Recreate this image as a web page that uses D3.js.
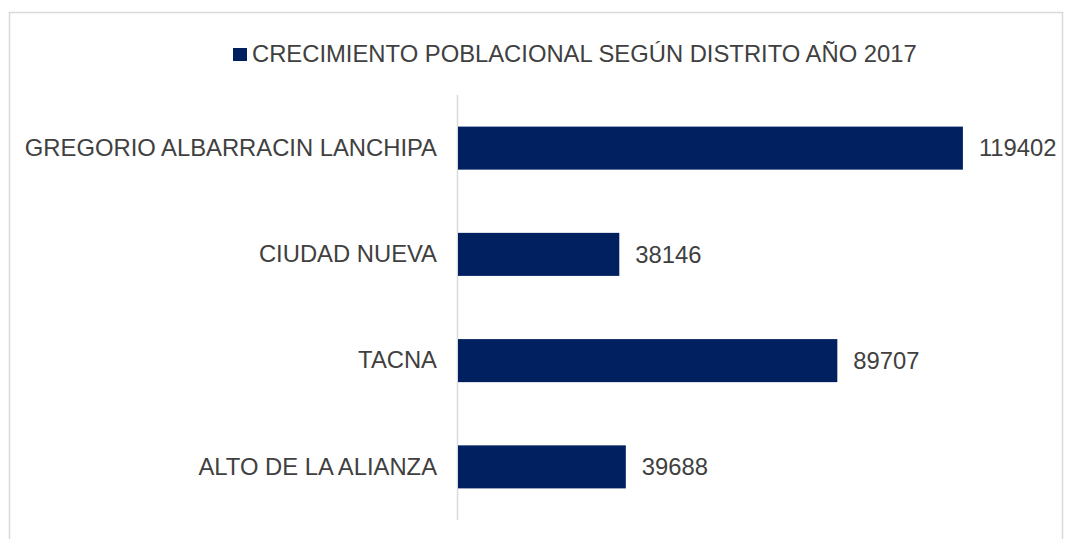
<!DOCTYPE html>
<html><head><meta charset="utf-8">
<script src="https://cdn.jsdelivr.net/npm/d3@7"></script>
<style>body{margin:0;background:#fff;}svg{display:block;font-family:"Liberation Sans",Arial,sans-serif;}</style>
</head><body>
<svg id="c" width="1066" height="539"></svg>
<script>
const categories = ["GREGORIO ALBARRACIN LANCHIPA","CIUDAD NUEVA","TACNA","ALTO DE LA ALIANZA"];
const values = [119402, 38146, 89707, 39688];
const seriesName = "CRECIMIENTO POBLACIONAL SEGÚN DISTRITO AÑO 2017";
const barColor = "#002060";
const fs = 23.8;

const svg = d3.select("#c");
svg.append("rect").attr("x",9.5).attr("y",12.5).attr("width",1053).attr("height",540)
  .attr("fill","#fff").attr("stroke","#d9d9d9").attr("stroke-width",1.5);

const x = d3.scaleLinear().domain([0,140000]).range([458,1050]);
const y = d3.scaleBand().domain(categories).range([95,520]).paddingInner(0.595).paddingOuter(0.2975);

svg.append("line").attr("x1",457.5).attr("x2",457.5).attr("y1",95).attr("y2",520)
  .attr("stroke","#d9d9d9").attr("stroke-width",1.5);

const yAxis = d3.axisLeft(y).tickSize(0).tickPadding(20);
const ga = svg.append("g").attr("transform","translate(457,0)").call(yAxis);
ga.select(".domain").remove();
ga.selectAll("text").attr("font-size",fs).attr("fill","#404040").attr("font-family","'Liberation Sans',Arial,sans-serif");

svg.selectAll("rect.bar").data(values).join("rect").attr("class","bar")
  .attr("x",x(0)).attr("y",(d,i)=>y(categories[i]))
  .attr("width",d=>x(d)-x(0)).attr("height",y.bandwidth()).attr("fill",barColor);

svg.selectAll("text.val").data(values).join("text").attr("class","val")
  .attr("x",d=>x(d)+16).attr("y",(d,i)=>y(categories[i])+y.bandwidth()/2)
  .attr("dy","0.35em").attr("font-size",fs).attr("fill","#404040").text(d=>d);

// legend
const lg = svg.append("g");
lg.append("rect").attr("x",233).attr("y",48).attr("width",14).attr("height",13).attr("fill",barColor);
lg.append("text").attr("x",252).attr("y",62).attr("font-size",fs).attr("fill","#404040").text(seriesName);
</script>
</body></html>
